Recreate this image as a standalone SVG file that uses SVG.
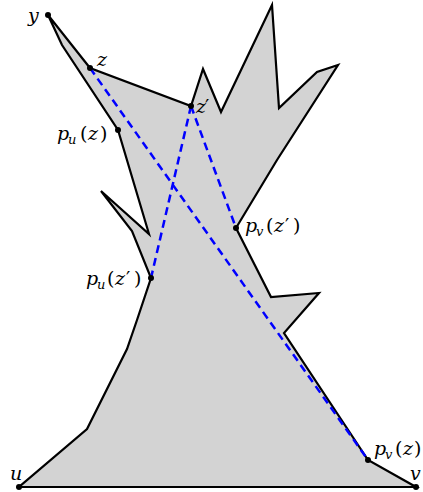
<svg xmlns="http://www.w3.org/2000/svg" width="423" height="492" viewBox="0 0 423 492">
  <style>
    .poly { fill: #d3d3d3; stroke: #000; stroke-width: 2.2; stroke-linejoin: miter; }
    .dash { fill: none; stroke: #0000ff; stroke-width: 2.5; stroke-dasharray: 8 5; }
    .dot { fill: #000; }
    .lbl { font-family: "DejaVu Serif", serif; font-size: 19px; fill: #000; }
    .it { font-style: italic; }
    .sub { font-style: italic; font-size: 13px; }
  </style>
  <g id="polygon">
    <polygon class="poly" points="19,487 416,487 368,460 284,333 319,293 271,297 236,228 277,160 338,65 317,72 279,108 272,5 221,112 203,69 191,106 90,68 48,15 62,45 118,130 149,234 101,191 132,231 151,278 137,320 127,349 87,429"/>
  </g>
  <g id="connectors">
    <line class="dash" x1="90" y1="68" x2="368" y2="460"/>
    <line class="dash" x1="191" y1="106" x2="151" y2="278"/>
    <line class="dash" x1="191" y1="106" x2="236" y2="228"/>
  </g>
  <g id="node-y"><circle class="dot" cx="48" cy="15" r="3"/><text class="lbl it" x="28" y="22">y</text></g>
  <g id="node-z"><circle class="dot" cx="90" cy="68" r="3"/><text class="lbl it" x="97" y="66">z</text></g>
  <g id="node-zp"><circle class="dot" cx="191" cy="106" r="3"/><text class="lbl" x="196" y="113"><tspan class="it">z</tspan><tspan x="205">′</tspan></text></g>
  <g id="node-puz"><circle class="dot" cx="118" cy="130" r="3"/><text class="lbl" y="140"><tspan class="it" x="57">p</tspan><tspan class="sub" x="68" dy="4">u</tspan><tspan x="80" dy="-4">(</tspan><tspan class="it" x="88">z</tspan><tspan x="100">)</tspan></text></g>
  <g id="node-puzp"><circle class="dot" cx="151" cy="278" r="3"/><text class="lbl" y="285"><tspan class="it" x="86">p</tspan><tspan class="sub" x="97" dy="4">u</tspan><tspan x="107" dy="-4">(</tspan><tspan class="it" x="115">z</tspan><tspan x="126">′</tspan><tspan x="134">)</tspan></text></g>
  <g id="node-pvzp"><circle class="dot" cx="236" cy="228" r="3"/><text class="lbl" y="232"><tspan class="it" x="245">p</tspan><tspan class="sub" x="256" dy="4">v</tspan><tspan x="266" dy="-4">(</tspan><tspan class="it" x="274">z</tspan><tspan x="285">′</tspan><tspan x="293">)</tspan></text></g>
  <g id="node-pvz"><circle class="dot" cx="368" cy="460" r="3"/><text class="lbl" y="455"><tspan class="it" x="374">p</tspan><tspan class="sub" x="385" dy="4">v</tspan><tspan x="395" dy="-4">(</tspan><tspan class="it" x="403">z</tspan><tspan x="414">)</tspan></text></g>
  <g id="node-u"><circle class="dot" cx="19" cy="487" r="3"/><text class="lbl it" x="10" y="480">u</text></g>
  <g id="node-v"><circle class="dot" cx="416" cy="487" r="3"/><text class="lbl it" x="410" y="480">v</text></g>
</svg>
